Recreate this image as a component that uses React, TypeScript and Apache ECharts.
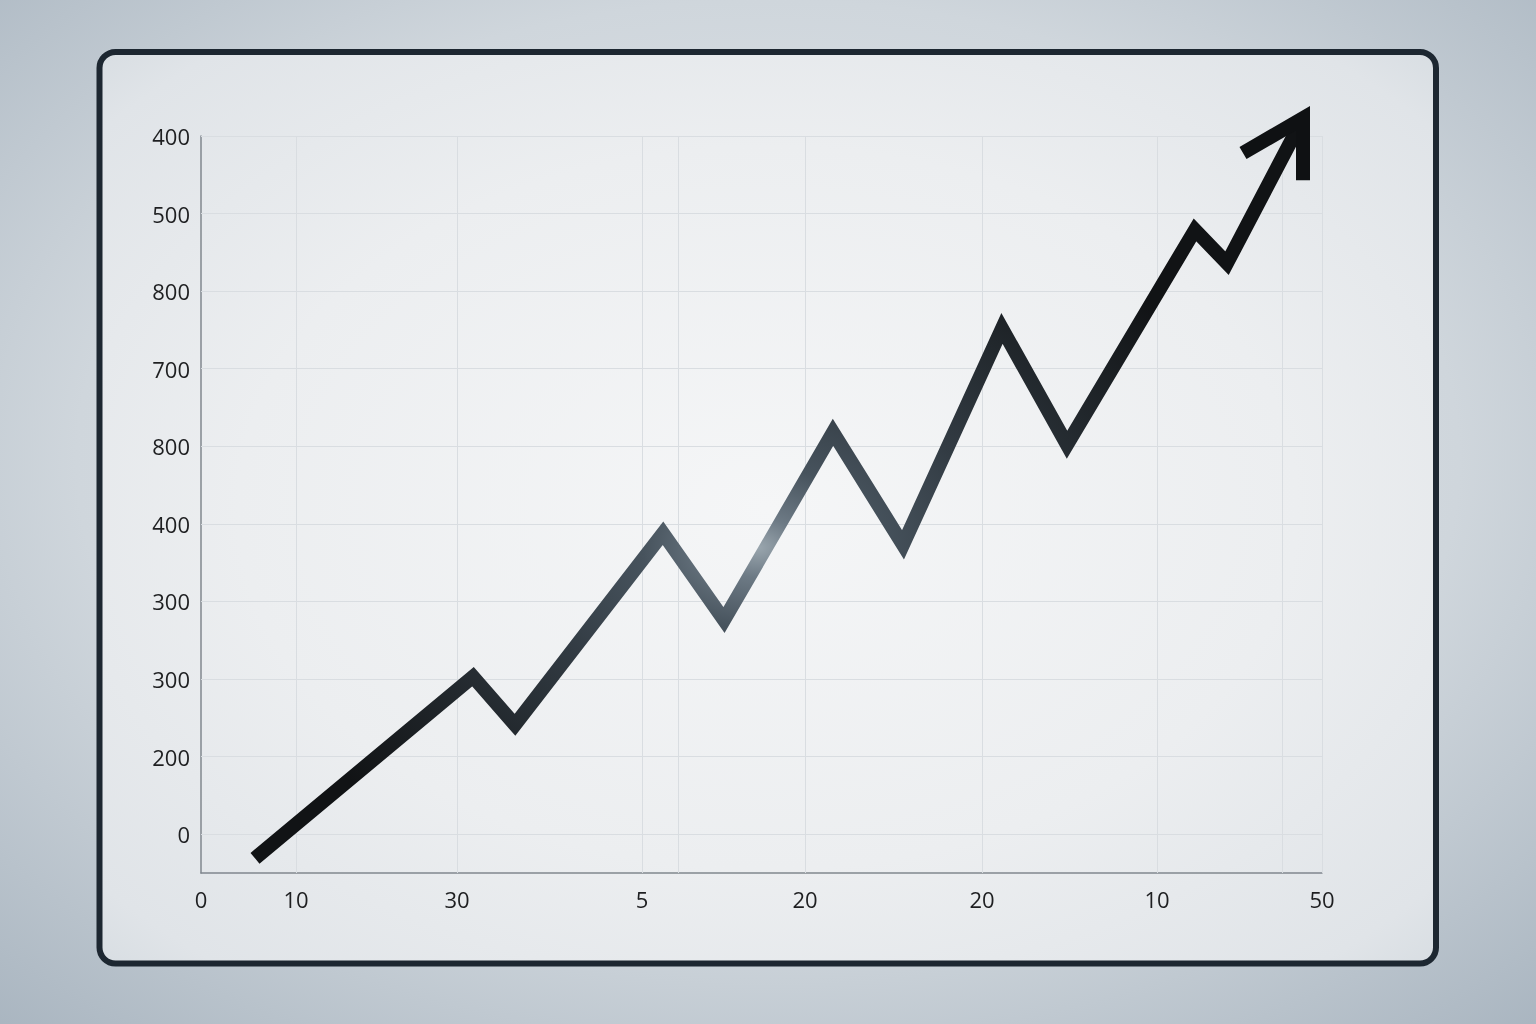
import React, { useEffect, useRef } from 'react';
import * as echarts from 'echarts';

// Vertical grid line positions (x units) and horizontal grid line positions (y units)
const xGridPos = [9.5, 25.6, 44.1, 47.7, 60.4, 78.1, 95.6, 108.1, 112.1];
const yGridPos = [0.5, 1.5, 2.5, 3.5, 4.5, 5.5, 6.5, 7.5, 8.5, 9.5];

// Tick labels
const xLabelPos = [0, 9.5, 25.6, 44.1, 60.4, 78.1, 95.6, 112.1];
const xLabels = ['0', '10', '30', '5', '20', '20', '10', '50'];
const yLabels = ['0', '200', '300', '300', '400', '800', '700', '800', '500', '400'];

// Main zig-zag line
const lineX = [5.4, 27.2, 31.4, 46.2, 52.3, 63.2, 70.2, 80.1, 86.6, 99.4, 102.6, 110.2];
const lineY = [0.19, 2.53, 1.91, 4.38, 3.26, 5.68, 4.23, 7.02, 5.52, 8.29, 7.86, 9.73];

// Arrow head (left wing, tip, right wing)
const headX = [104.2, 110.2, 110.2];
const headY = [9.28, 9.73, 8.93];

const nearest = (arr: number[], v: number) => {
  let bi = 0;
  for (let i = 1; i < arr.length; i++) {
    if (Math.abs(arr[i] - v) < Math.abs(arr[bi] - v)) bi = i;
  }
  return bi;
};

export default function App() {
  const ref = useRef<HTMLDivElement>(null);
  useEffect(() => {
    const chart = echarts.init(ref.current!, null, { renderer: 'svg' });
    const gridColor = '#d9dde1';
    const option: any = {
      animation: false,
      graphic: [
        {
          type: 'rect',
          z: -20,
          silent: true,
          shape: { x: 0, y: 0, width: 1536, height: 1024 },
          style: {
            fill: new echarts.graphic.RadialGradient(0.5, 0.45, 0.75, [
              { offset: 0, color: '#e6eaee' },
              { offset: 0.6, color: '#cfd6dc' },
              { offset: 1, color: '#a9b5c0' },
            ]),
          },
        },
        {
          type: 'rect',
          z: -19,
          silent: true,
          shape: { x: 99.5, y: 52, width: 1336.5, height: 911.5, r: 16 },
          style: {
            fill: new echarts.graphic.RadialGradient(0.5, 0.5, 0.72, [
              { offset: 0, color: '#f5f6f7' },
              { offset: 0.55, color: '#eceef0' },
              { offset: 0.9, color: '#e0e4e8' },
              { offset: 1, color: '#d6dce1' },
            ]),
            stroke: '#1d2731',
            lineWidth: 6,
          },
        },
      ],
      grid: { left: 201, top: 136, right: 214, bottom: 151, containLabel: false },
      xAxis: {
        type: 'value',
        min: 0,
        max: 112.1,
        axisLine: { show: true, lineStyle: { color: '#80878e', width: 1.5 } },
        axisTick: { show: false },
        splitLine: { show: false },
        axisLabel: {
          customValues: xLabelPos,
          formatter: (v: number) => xLabels[nearest(xLabelPos, v)],
          color: '#1e1f21',
          fontFamily: 'Open Sans',
          fontSize: 22,
          margin: 15,
        },
      },
      yAxis: {
        type: 'value',
        min: 0,
        max: 9.5,
        axisLine: { show: true, lineStyle: { color: '#80878e', width: 1.5 } },
        axisTick: { show: false },
        splitLine: { show: false },
        axisLabel: {
          customValues: yGridPos,
          formatter: (v: number) => yLabels[nearest(yGridPos, v)],
          color: '#1e1f21',
          fontFamily: 'Open Sans',
          fontSize: 22,
          margin: 11,
        },
      },
      series: [
        {
          type: 'line',
          name: 'grid',
          data: [],
          z: 1,
          silent: true,
          markLine: {
            silent: true,
            symbol: ['none', 'none'],
            label: { show: false },
            lineStyle: { color: gridColor, width: 1, type: 'solid' },
            emphasis: { disabled: true },
            data: [
              ...xGridPos.map((v) => ({ xAxis: v })),
              ...yGridPos.map((v) => ({ yAxis: v })),
            ],
          },
        },
        {
          type: 'line',
          name: 'trend',
          z: 5,
          clip: false,
          symbol: 'none',
          showSymbol: false,
          silent: true,
          data: lineX.map((x, i) => [x, lineY[i]]),
          lineStyle: {
            width: 14,
            cap: 'butt',
            join: 'miter',
            color: new echarts.graphic.RadialGradient(0.48, 0.58, 0.5, [
              { offset: 0, color: '#9aa6ae' },
              { offset: 0.08, color: '#6d7a85' },
              { offset: 0.22, color: '#47535d' },
              { offset: 0.45, color: '#323b43' },
              { offset: 0.7, color: '#22282d' },
              { offset: 1, color: '#111315' },
            ]),
          },
        },
        {
          type: 'line',
          name: 'arrowhead',
          z: 6,
          clip: false,
          symbol: 'none',
          showSymbol: false,
          silent: true,
          data: headX.map((x, i) => [x, headY[i]]),
          lineStyle: { width: 14, cap: 'butt', join: 'miter', color: '#0f1113' },
        },
      ],
    };
    chart.setOption(option);
    return () => chart.dispose();
  }, []);
  return (
    <div
      ref={ref}
      style={{ position: 'fixed', left: 0, top: 0, width: 1536, height: 1024 }}
    />
  );
}
